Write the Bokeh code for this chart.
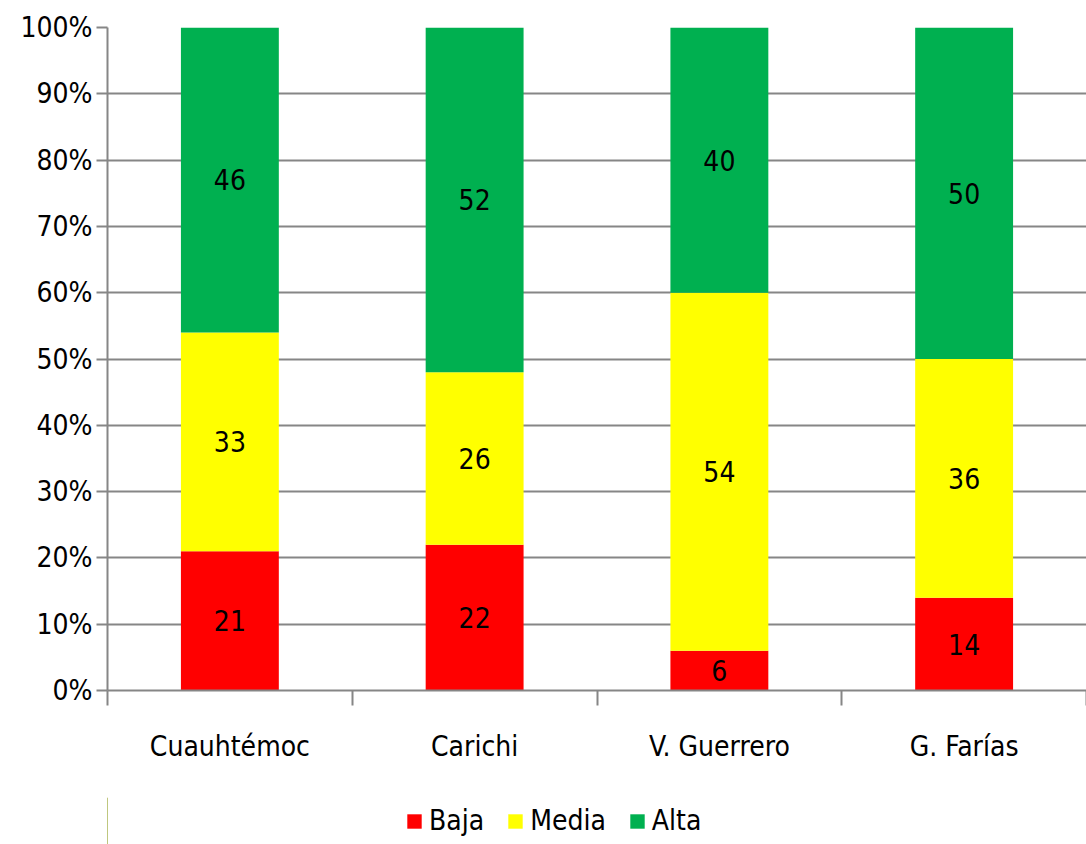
from bokeh.plotting import figure
from bokeh.layouts import column
from bokeh.models import ColumnDataSource, FixedTicker, Legend, LegendItem, Range1d
from bokeh.core.properties import value
from bokeh.embed import file_html
from bokeh.resources import INLINE

categories = ["Cuauhtémoc", "Carichi", "V. Guerrero", "G. Farías"]
baja = [21, 22, 6, 14]
media = [33, 26, 54, 36]
alta = [46, 52, 40, 50]
series_names = ["Baja", "Media", "Alta"]
colors = ["#FF0000", "#FFFF00", "#00B050"]
y_ticks = [0, 10, 20, 30, 40, 50, 60, 70, 80, 90, 100]

FONT = "DejaVu Sans Condensed"
FS = "28px"
GRID = "#868686"

xs = [i + 0.5 for i in range(len(categories))]
source = ColumnDataSource(dict(x=xs, Baja=baja, Media=media, Alta=alta))

p = figure(frame_width=979, frame_height=663, output_backend="svg", toolbar_location=None,
           x_range=Range1d(0, len(categories)), y_range=Range1d(0, 100),
           min_border_left=107, min_border_right=0, min_border_top=27, min_border_bottom=107)
p.outline_line_color = None

renderers = p.vbar_stack(series_names, x="x", width=0.4, color=colors, source=source,
                         line_color=None)

# data labels
lab_x, lab_y, lab_t = [], [], []
for i in range(len(categories)):
    base = 0
    for vals in (baja, media, alta):
        v = vals[i]
        lab_x.append(xs[i])
        lab_y.append(base + v / 2)
        lab_t.append(str(v))
        base += v
p.text(x=lab_x, y=lab_y, text=lab_t, text_align="center", text_baseline="middle",
       text_font=value(FONT), text_font_size=FS, text_color="#000000")

# y axis
p.yaxis.ticker = FixedTicker(ticks=y_ticks)
p.yaxis.major_label_overrides = {t: f"{t}%" for t in y_ticks}
p.yaxis.major_label_text_font = FONT
p.yaxis.major_label_text_font_size = FS
p.yaxis.major_label_text_color = "#000000"
p.yaxis.axis_line_color = GRID
p.yaxis.axis_line_width = 2
p.yaxis.major_tick_line_color = GRID
p.yaxis.major_tick_line_width = 2
p.yaxis.major_tick_out = 11
p.yaxis.major_tick_in = 0
p.yaxis.minor_tick_line_color = None
p.yaxis.major_label_standoff = 4

# x axis
p.xaxis.ticker = FixedTicker(ticks=xs, minor_ticks=list(range(len(categories) + 1)))
p.xaxis.major_label_overrides = {x: c for x, c in zip(xs, categories)}
p.xaxis.major_label_text_font = FONT
p.xaxis.major_label_text_font_size = FS
p.xaxis.major_label_text_color = "#000000"
p.xaxis.axis_line_color = GRID
p.xaxis.axis_line_width = 2
p.xaxis.major_tick_line_color = None
p.xaxis.major_tick_out = 0
p.xaxis.major_tick_in = 0
p.xaxis.minor_tick_line_color = GRID
p.xaxis.minor_tick_line_width = 2
p.xaxis.minor_tick_out = 15
p.xaxis.minor_tick_in = 0
p.xaxis.major_label_standoff = 24

p.xgrid.grid_line_color = None
p.ygrid.grid_line_color = GRID
p.ygrid.grid_line_width = 2

# legend strip below the chart
lg = figure(width=1086, height=47, output_backend="svg", toolbar_location=None,
            x_range=Range1d(0, 1), y_range=Range1d(0, 1),
            x_axis_location=None, y_axis_location=None,
            min_border_left=107, min_border_right=0, min_border_top=0, min_border_bottom=0)
lg.grid.grid_line_color = None
lg.outline_line_color = None
lg.border_fill_color = None
lg.background_fill_color = None
dummy = [lg.vbar(x=[-10], top=[1], width=0.1, color=c, line_color=None) for c in colors]
legend = Legend(items=[LegendItem(label=n, renderers=[r]) for n, r in zip(series_names, dummy)],
                orientation="horizontal", location=(298, 7),
                label_text_font=FONT, label_text_font_size=FS, label_text_color="#000000",
                glyph_width=18, glyph_height=18, label_standoff=6, spacing=22,
                border_line_color=None, background_fill_alpha=0, padding=0, margin=0)
lg.add_layout(legend, "center")

layout = column(p, lg, spacing=0)
open("out.html", "w").write(file_html(layout, INLINE))
